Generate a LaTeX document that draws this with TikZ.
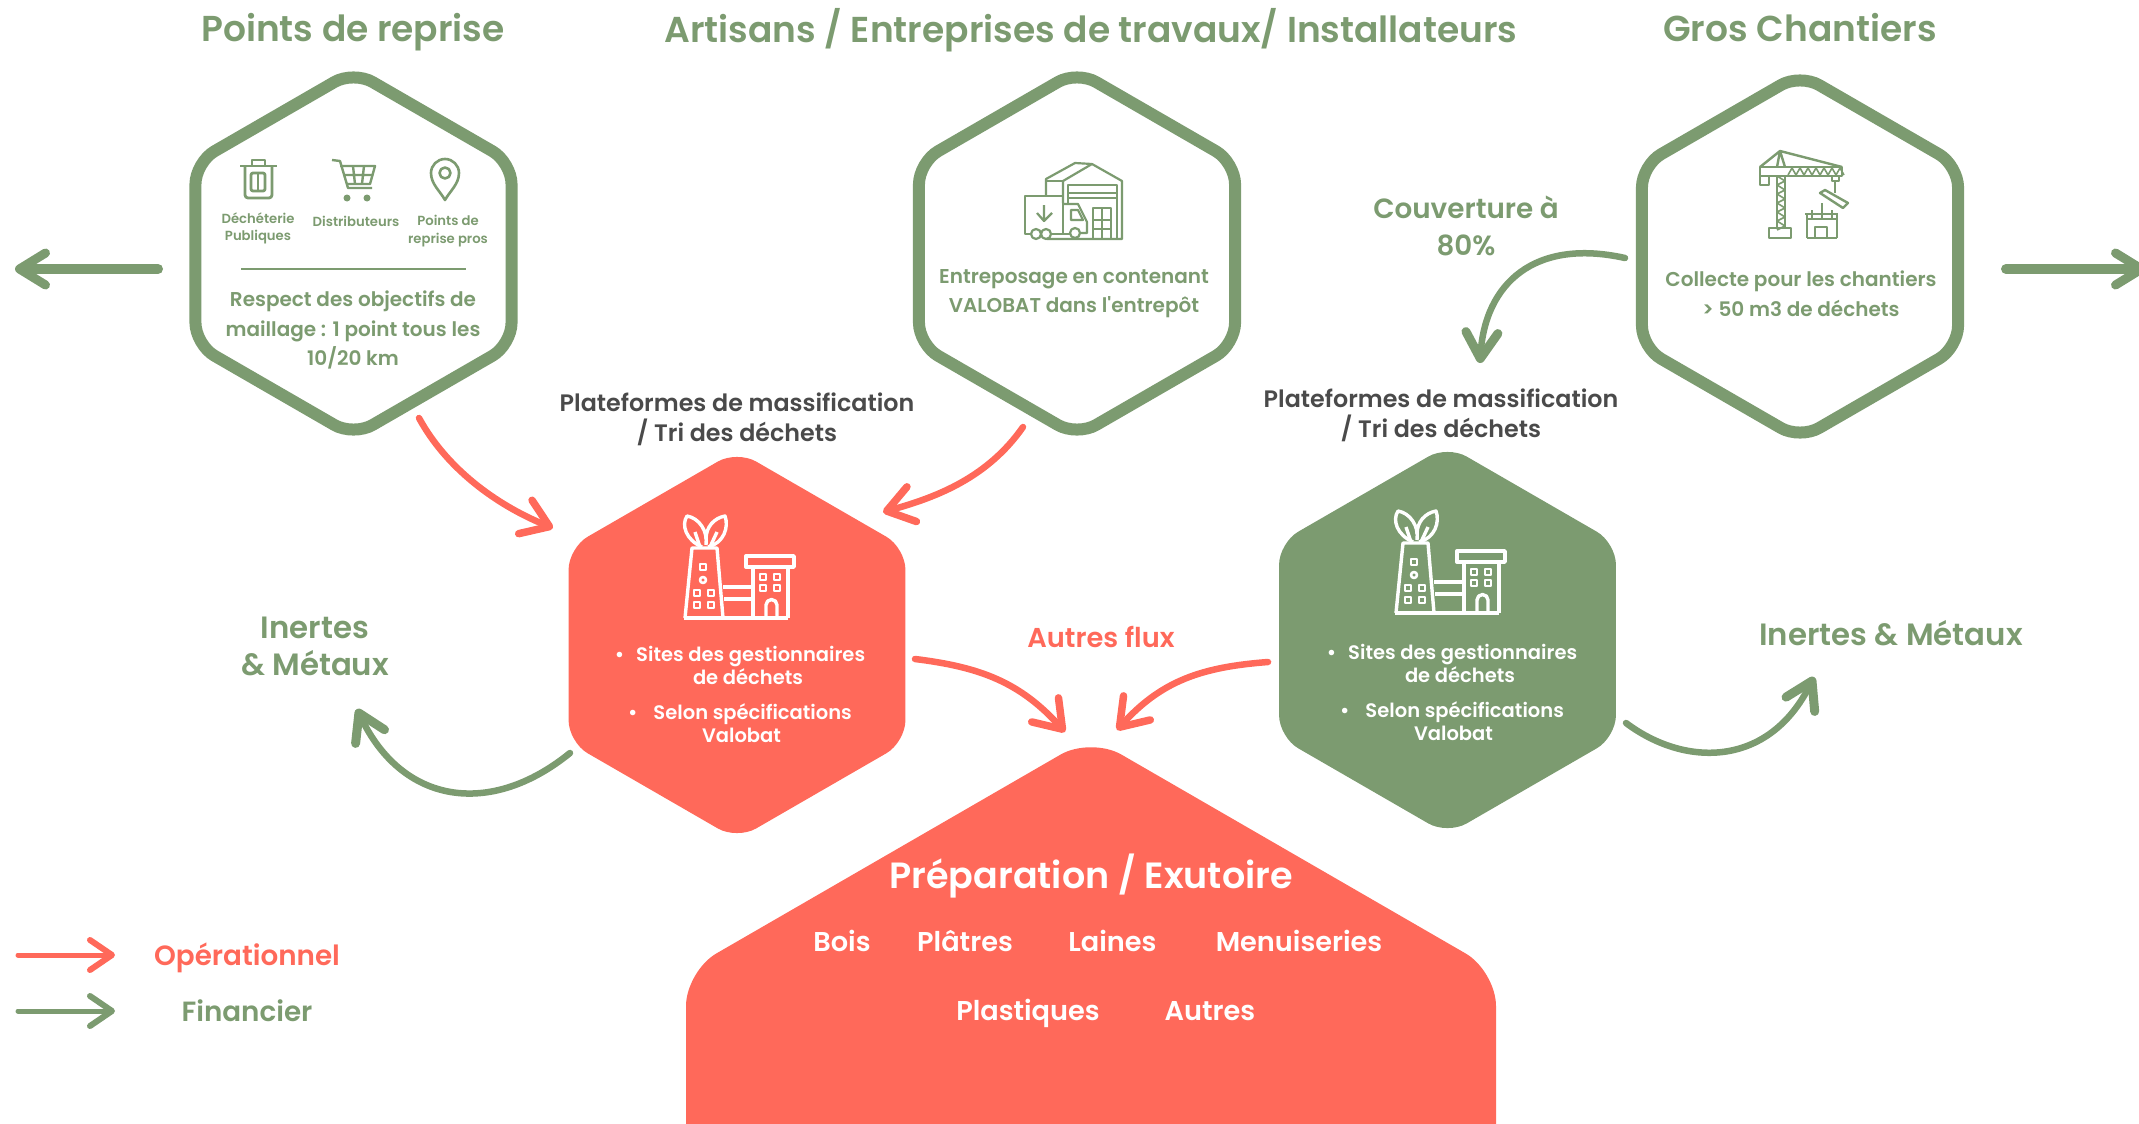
\documentclass[tikz,border=0pt]{standalone}
\usepackage{fontspec}
\setmainfont{Poppins}[UprightFont=* SemiBold,BoldFont=* Bold]
\usetikzlibrary{shapes.geometric,arrows.meta}
\definecolor{valoGreen}{RGB}{124,155,112}
\definecolor{valoRed}{RGB}{255,105,90}
\definecolor{valoDark}{RGB}{74,74,74}
\newcommand{\fs}[1]{\fontsize{#1}{#1}\selectfont}
\tikzset{
    x=1pt,y=-1pt,
    hexbase/.style={regular polygon,regular polygon sides=6,shape border rotate=30,inner sep=0pt,outer sep=0pt},
    hexOutline/.style={hexbase,minimum size=365pt,rounded corners=22pt,draw=valoGreen,line width=12pt,fill=white},
    hexRed/.style={hexbase,minimum size=389pt,rounded corners=22pt,fill=valoRed},
    hexGreen/.style={hexbase,minimum size=389pt,rounded corners=22pt,fill=valoGreen},
    lab/.style={align=center,inner sep=0pt,outer sep=0pt},
    title/.style={lab,anchor=base,text=valoGreen,font=\fs{36}},
    greenText/.style={lab,text=valoGreen,font=\fs{20},execute at begin node={\baselineskip=29.5pt}},
    smallText/.style={lab,text=valoGreen,font=\fs{13.2},execute at begin node={\baselineskip=17.5pt}},
    sideText/.style={lab,text=valoGreen,font=\fs{27.8},execute at begin node={\baselineskip=37pt}},
    bigSide/.style={sideText,font=\fs{30.8}},
    darkText/.style={lab,text=valoDark,font=\fs{23.8},execute at begin node={\baselineskip=30pt}},
    whiteText/.style={lab,text=white,font=\fs{19.5},execute at begin node={\baselineskip=23pt}},
    matText/.style={lab,anchor=base,text=white,font=\fs{27.2}},
    opArrow/.style={draw=valoRed,line width=6.5pt,line cap=round,-{Straight Barb[round,length=26pt,width=36pt,line width=7.5pt]}},
    finArrow/.style={draw=valoGreen,line width=6.5pt,line cap=round,-{Straight Barb[round,length=26pt,width=32pt,line width=9pt]}},
    legArrow/.style={line width=5pt,line cap=round},
    factory/.pic={
        \begin{scope}[draw=white,line width=3.4pt,line join=round]
            \draw (0,103) -- (104,103);
            \draw (1,103) -- (8,33) -- (33,33) -- (39,103);
            \draw (69,103) -- (69,52) (104,103) -- (104,52);
            \draw (62,41) rectangle (110,52);
            \draw (39,72) -- (69,72) (40,84) -- (69,84);
            \foreach \wx/\wy in {79/62,93/62,79/73,93/73,19/52,13/78,27/78,13/90,27/90}
                \draw[line width=2.6pt] (\wx-3,\wy-3) rectangle (\wx+3,\wy+3);
            \draw[line width=2.6pt] (19,65) circle (3);
            \draw (82,103) -- (82,90) arc[start angle=180,end angle=360,radius=5.5] -- (93,103);
            \draw (18,32) .. controls (2,25) and (-3,10) .. (3,1) .. controls (15,3) and (24,16) .. (22,30);
            \draw (24,32) .. controls (40,28) and (45,12) .. (41,1) .. controls (30,3) and (22,12) .. (22,24);
            \draw (11,17) -- (16,32) (33,17) -- (26,32);
        \end{scope}
    },
}

\begin{document}
\begin{tikzpicture}
    \useasboundingbox (0,0) rectangle (2139,1124);
    \clip (0,0) rectangle (2139,1124);

    % titles
    \node[title] (titlePoints) at (353,42) {Points de reprise};
    \node[title] (titleArtisans) at (1091,43) {Artisans / Entreprises de travaux/ Installateurs};
    \node[title] (titleChantiers) at (1800,42) {Gros Chantiers};

    % collection points
    \node[hexOutline] (hexPoints) at (353.5,253.5) {};
    \node[hexOutline] (hexArtisans) at (1077,253.5) {};
    \node[hexOutline] (hexChantiers) at (1800,256.5) {};

    % platforms
    \node[hexRed] (platRed) at (737,645) {};
    \node[hexGreen] (platGreen) at (1447.5,640) {};
    \path (0,103) pic at (684,515) {factory};
    \path (0,103) pic at (1395,510) {factory};

    % bottom shape
    \fill[valoRed,rounded corners=35pt] (1091,737) -- (1496,971) -- (1496,1300) -- (686,1300) -- (686,971) -- cycle;
    \coordinate (exutoire) at (1091,746);

    % text of first hexagon
    \node[smallText] (lblDecheterie) at (258,228.5) {Déchéterie\\Publiques};
    \node[smallText] (lblDistrib) at (356,221) {Distributeurs};
    \node[smallText] (lblPros) at (448,231) {Points de\\reprise pros};
    \draw[valoGreen,line width=1.5pt] (241,269) -- (466,269);
    \node[greenText] (txtPoints) at (353,330) {Respect des objectifs de\\maillage : 1 point tous les\\10/20 km};
    \node[greenText] (txtArtisans) at (1074,293.5) {Entreposage en contenant\\VALOBAT dans l\textquotesingle entrepôt};
    \node[greenText] (txtChantiers) at (1801,293.5) {Collecte pour les chantiers\\> 50 m3 de déchets};

    % trash
    \begin{scope}[draw=valoGreen,line width=2.8pt,line join=round]
        \draw (240,166) -- (277,166);
        \draw (252,166) -- (252,160) -- (265,160) -- (265,166);
        \draw[rounded corners=3pt] (245,166) -- (245,198) -- (272,198) -- (272,166);
        \draw[rounded corners=2pt] (251,173) rectangle (265,191);
        \draw (258,173) -- (258,191);
    \end{scope}
    % cart
    \begin{scope}[draw=valoGreen,line width=2.4pt,line join=round]
        \draw (332,160) -- (340,161) -- (348,188) -- (372,188);
        \draw (340,166) -- (375,166) -- (370,184) -- (347,184);
        \draw (353,166) -- (355,184) (364,166) -- (362,184) (343,175) -- (373,175);
        \fill[valoGreen] (347,198) circle (3.5) (367,198) circle (3.5);
    \end{scope}
    % pin
    \begin{scope}[draw=valoGreen,line width=2.6pt,line join=round]
        \draw (445,200) .. controls (440,191) and (431,184) .. (431,173) arc[start angle=180,end angle=360,radius=14] .. controls (459,184) and (450,191) .. cycle;
        \draw (445,173) circle (5.5);
    \end{scope}

    % warehouse and truck
    \begin{scope}[draw=valoGreen,line width=2.2pt,line join=round]
        \draw (1046,195) -- (1046,179) -- (1075,163) -- (1092,164);
        \draw (1063,203) -- (1063,181) -- (1092,164) -- (1122,181) -- (1122,239) -- (1047,239);
        \draw (1046,181) -- (1063,181);
        \draw (1068,203) -- (1068,185) -- (1117,185) -- (1117,239);
        \draw (1068,193) -- (1117,193) (1068,198) -- (1117,198);
        \draw (1093,238) -- (1093,208) -- (1111,208) -- (1111,238) (1102,208) -- (1102,238) (1093,220) -- (1111,220) (1093,229) -- (1111,229);
        \draw (1031,234) -- (1025,234) -- (1025,196) -- (1063,196) -- (1063,234);
        \draw (1044,205) -- (1044,221) (1037,213) -- (1044,221) -- (1052,213);
        \draw (1063,204) -- (1078,204) -- (1087,222) -- (1087,233) -- (1080,233);
        \draw (1071,210) -- (1078,210) -- (1083,220) -- (1071,220) -- cycle;
        \draw (1051,234) -- (1070,234);
        \draw[fill=white] (1036,234) circle (5) (1046,234) circle (5) (1075,233) circle (5);
    \end{scope}

    % crane
    \begin{scope}[draw=valoGreen,line width=2.4pt,line join=round]
        \draw (1777,176) -- (1777,228) (1785,176) -- (1785,228);
        \foreach \ly in {176,185,...,221}
            \draw[line width=1.6pt] (1777,\ly) -- (1785,\ly+5) -- (1777,\ly+9);
        \draw (1769,228) rectangle (1791,238);
        \draw (1760,167) rectangle (1842,176);
        \foreach \lx in {1788,1796,...,1836}
            \draw[line width=1.6pt] (\lx,175) -- (\lx+4,168) -- (\lx+8,175);
        \draw (1760,176) rectangle (1769,185);
        \draw (1760,167) -- (1780,151) -- (1842,167) (1777,167) -- (1780,151) -- (1785,167);
        \draw (1832,176) rectangle (1839,181);
        \draw (1835,181) -- (1835,193);
        \draw (1820,193) -- (1825,190) -- (1848,203) -- (1843,208) -- cycle;
        \draw (1807,238) -- (1807,214) (1837,238) -- (1837,214) (1807,238) -- (1837,238);
        \draw (1805,214) -- (1838,214) (1807,219) -- (1837,219);
        \draw (1815,238) -- (1815,227) -- (1827,227) -- (1827,238);
        \draw (1812,210) -- (1812,219) (1822,203) -- (1822,219) (1832,210) -- (1832,219);
    \end{scope}

    % platform text
    \node[darkText] (lblPlatRed) at (737,419) {Plateformes de massification\\/ Tri des déchets};
    \node[darkText] (lblPlatGreen) at (1441,415) {Plateformes de massification\\/ Tri des déchets};
    \node[whiteText] (txtPlatRed) at (740,694.5) {•\hspace{12pt}Sites des gestionnaires\\\hspace*{16pt}de déchets\\[12pt]•\hspace{16pt}Selon spécifications\hspace*{22pt}\\\hspace*{3pt}Valobat};
    \node[whiteText] (txtPlatGreen) at (1452,692) {•\hspace{12pt}Sites des gestionnaires\\\hspace*{16pt}de déchets\\[12pt]•\hspace{16pt}Selon spécifications\hspace*{22pt}\\\hspace*{3pt}Valobat};

    % side text
    \node[sideText] (lblCouverture) at (1466,226) {Couverture à\\80\%};
    \node[sideText,text=valoRed,font=\fs{27.3}] (lblAutres) at (1101,637) {Autres flux};
    \node[bigSide] (inertesLeft) at (315,646) {Inertes\\\& Métaux};
    \node[bigSide] (inertesRight) at (1891,633) {Inertes \& Métaux};

    % text in bottom shape
    \node[lab,text=white,font=\fs{36.5}] (lblExutoire) at (1091,876) {Préparation / Exutoire};
    \node[matText] (lblBois) at (842,951) {Bois};
    \node[matText] (lblPlatres) at (965,951) {Plâtres};
    \node[matText] (lblLaines) at (1112.5,951) {Laines};
    \node[matText] (lblMenuiseries) at (1299,951) {Menuiseries};
    \node[matText] (lblPlastiques) at (1028,1020) {Plastiques};
    \node[matText] (lblAutresMat) at (1210,1020) {Autres};

    % legend
    \node[sideText,text=valoRed] (legOp) at (247,958) {Opérationnel};
    \node[sideText] (legFin) at (247,1011) {Financier};
    \coordinate (legOpTail) at (18,955);
    \coordinate (legFinTail) at (18,1011);
    \coordinate (exitLeft) at (15,269);
    \coordinate (exitRight) at (2146,269);

    % arrows
    \draw[opArrow] ([shift={(65.5,164.5)}]hexPoints.center) .. controls +(30,55) and +(-50,-20) .. ([shift={(-184,-117)}]platRed.center);
    \draw[opArrow] ([shift={(-54,173.5)}]hexArtisans.center) .. controls +(-35,50) and +(55,-15) .. ([shift={(146,-133)}]platRed.center);
    \draw[opArrow] ([shift={(178,14)}]platRed.center) .. controls +(65,8) and +(-45,-50) .. ([shift={(-26,-14)}]exutoire);
    \draw[opArrow] ([shift={(-179.5,22)}]platGreen.center) .. controls +(-65,5) and +(45,-50) .. ([shift={(26,-16)}]exutoire);
    \draw[finArrow] ([shift={(-175,1.5)}]hexChantiers.center) .. controls +(-90,-20) and +(5,-80) .. ([shift={(32.5,-277)}]platGreen.center);
    \draw[finArrow] ([shift={(-167,108)}]platRed.center) .. controls +(-80,65) and +(45,95) .. ([shift={(42,63)}]inertesLeft.center);
    \draw[finArrow] ([shift={(178.5,83)}]platGreen.center) .. controls +(60,45) and +(-45,90) .. ([shift={(-77,44)}]inertesRight.center);
    \draw[finArrow,line width=10pt] ([shift={(-195.5,15.5)}]hexPoints.center) -- (exitLeft);
    \draw[finArrow,line width=10pt] ([shift={(206,12.5)}]hexChantiers.center) -- (exitRight);
    \draw[legArrow,draw=valoRed,-{Straight Barb[round,length=22pt,width=30pt,line width=6pt]}] (legOpTail) -- ([shift={(-132,-3)}]legOp.center);
    \draw[legArrow,draw=valoGreen,-{Straight Barb[round,length=22pt,width=30pt,line width=6pt]}] (legFinTail) -- ([shift={(-132,0)}]legFin.center);
\end{tikzpicture}
\end{document}
